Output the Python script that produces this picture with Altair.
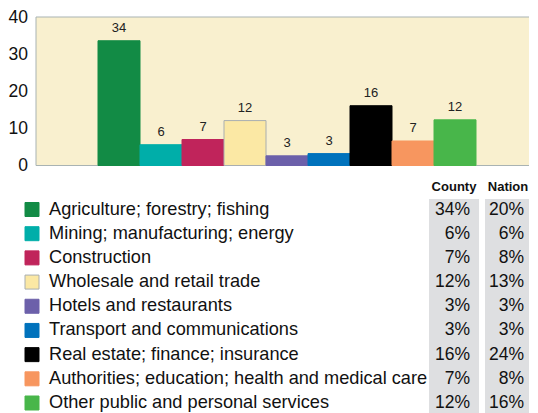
import altair as alt
import pandas as pd

categories = [
    "Agriculture; forestry; fishing",
    "Mining; manufacturing; energy",
    "Construction",
    "Wholesale and retail trade",
    "Hotels and restaurants",
    "Transport and communications",
    "Real estate; finance; insurance",
    "Authorities; education; health and medical care",
    "Other public and personal services",
]
county_share = [33.6, 5.6, 7.0, 12.1, 2.6, 3.2, 16.1, 6.6, 12.3]
county_pct = [34, 6, 7, 12, 3, 3, 16, 7, 12]
nation_pct = [20, 6, 8, 13, 3, 3, 24, 8, 16]
colors = ["#128B45", "#00AEA9", "#C0245B", "#FBE8A4", "#6C60AA",
          "#0072BC", "#000000", "#F7965F", "#48B64A"]
strokes = ["#128B45", "#00AEA9", "#C0245B", "#A9AEB0", "#6C60AA",
           "#0072BC", "#000000", "#F7965F", "#48B64A"]
y_ticks = [0, 10, 20, 30, 40]
headers = ["County", "Nation"]

FONT = "Liberation Sans"

df = pd.DataFrame({
    "category": categories,
    "share": county_share,
    "label": [str(v) for v in county_pct],
    "row": list(range(len(categories))),
    "county": [f"{v}%" for v in county_pct],
    "nation": [f"{v}%" for v in nation_pct],
})

bar_scale = alt.Scale(domain=[0, 40], range=[148.5, 0], nice=False, zero=True)
row_scale = alt.Scale(domain=[0, 8], range=[192.5, 386], nice=False, zero=False)
x_band = alt.X("category:N", sort=categories,
               scale=alt.Scale(domain=categories, paddingInner=0, paddingOuter=0, range=[62, 440]),
               axis=None)
color_enc = alt.Color("category:N", scale=alt.Scale(domain=categories, range=colors), legend=None)
stroke_enc = alt.Stroke("category:N", scale=alt.Scale(domain=categories, range=strokes), legend=None)

one = pd.DataFrame({"k": [0]})

background = alt.Chart(one).mark_rect(fill="#F9F0CF", stroke="#A9B3B3", strokeWidth=1).encode(
    x=alt.value(0), x2=alt.value(506),
    y=alt.YDatum(40, type="quantitative", scale=bar_scale, axis=None),
    y2=alt.Y2Datum(0),
)

bars = alt.Chart(df).mark_bar(strokeWidth=1).encode(
    x=x_band,
    y=alt.Y("share:Q", scale=bar_scale,
            axis=alt.Axis(values=y_ticks, title=None, domain=False, ticks=False, tickSize=0,
                          grid=False, labelPadding=8.5, labelFontSize=17.5, labelFont=FONT,
                          labelColor="#111111")),
    color=color_enc,
    stroke=stroke_enc,
)

bar_labels = alt.Chart(df).mark_text(baseline="alphabetic", dy=-9, fontSize=13, font=FONT,
                                     color="#222222").encode(
    x=x_band,
    y=alt.Y("share:Q", scale=bar_scale, axis=None),
    text="label:N",
)

grey_county = alt.Chart(one).mark_rect(fill="#DEDFE1").encode(
    x=alt.value(393), x2=alt.value(443),
    y=alt.YDatum(-0.43, type="quantitative", scale=row_scale, axis=None),
    y2=alt.Y2Datum(8.8),
)
grey_nation = alt.Chart(one).mark_rect(fill="#DEDFE1").encode(
    x=alt.value(449), x2=alt.value(500),
    y=alt.YDatum(-0.43, type="quantitative", scale=row_scale, axis=None),
    y2=alt.Y2Datum(8.8),
)

swatches = alt.Chart(df).mark_square(size=196, opacity=1, strokeWidth=1).encode(
    x=alt.value(-4),
    y=alt.Y("row:Q", scale=row_scale, axis=None),
    color=color_enc,
    stroke=stroke_enc,
)

legend_text = alt.Chart(df).mark_text(align="left", baseline="middle", fontSize=18.2, font=FONT,
                                      color="#111111").encode(
    x=alt.value(13),
    y=alt.Y("row:Q", scale=row_scale, axis=None),
    text="category:N",
)

county_text = alt.Chart(df).mark_text(align="right", baseline="middle", fontSize=17.5, font=FONT,
                                      color="#111111").encode(
    x=alt.value(434),
    y=alt.Y("row:Q", scale=row_scale, axis=None),
    text="county:N",
)
nation_text = alt.Chart(df).mark_text(align="right", baseline="middle", fontSize=17.5, font=FONT,
                                      color="#111111").encode(
    x=alt.value(488),
    y=alt.Y("row:Q", scale=row_scale, axis=None),
    text="nation:N",
)

hdr_df = pd.DataFrame({"h": headers})
hdr_county = alt.Chart(hdr_df.iloc[[0]]).mark_text(align="center", baseline="middle", fontSize=13,
                                                    fontWeight="bold", font=FONT, color="#111111").encode(
    x=alt.value(418),
    y=alt.YDatum(-0.91, type="quantitative", scale=row_scale, axis=None),
    text="h:N",
)
hdr_nation = alt.Chart(hdr_df.iloc[[1]]).mark_text(align="center", baseline="middle", fontSize=13,
                                                    fontWeight="bold", font=FONT, color="#111111").encode(
    x=alt.value(472),
    y=alt.YDatum(-0.91, type="quantitative", scale=row_scale, axis=None),
    text="h:N",
)

chart = alt.layer(
    background, bars, bar_labels, grey_county, grey_nation, swatches, legend_text,
    county_text, nation_text, hdr_county, hdr_nation,
).resolve_scale(y="independent").properties(
    width=493, height=396,
    padding={"left": 28, "top": 9, "right": 0, "bottom": 0},
    autosize=alt.AutoSizeParams(type="none"),
    background="white",
).configure_view(stroke=None, fill=None)

chart.save("out.html", embed_options={"renderer": "svg", "actions": False})
